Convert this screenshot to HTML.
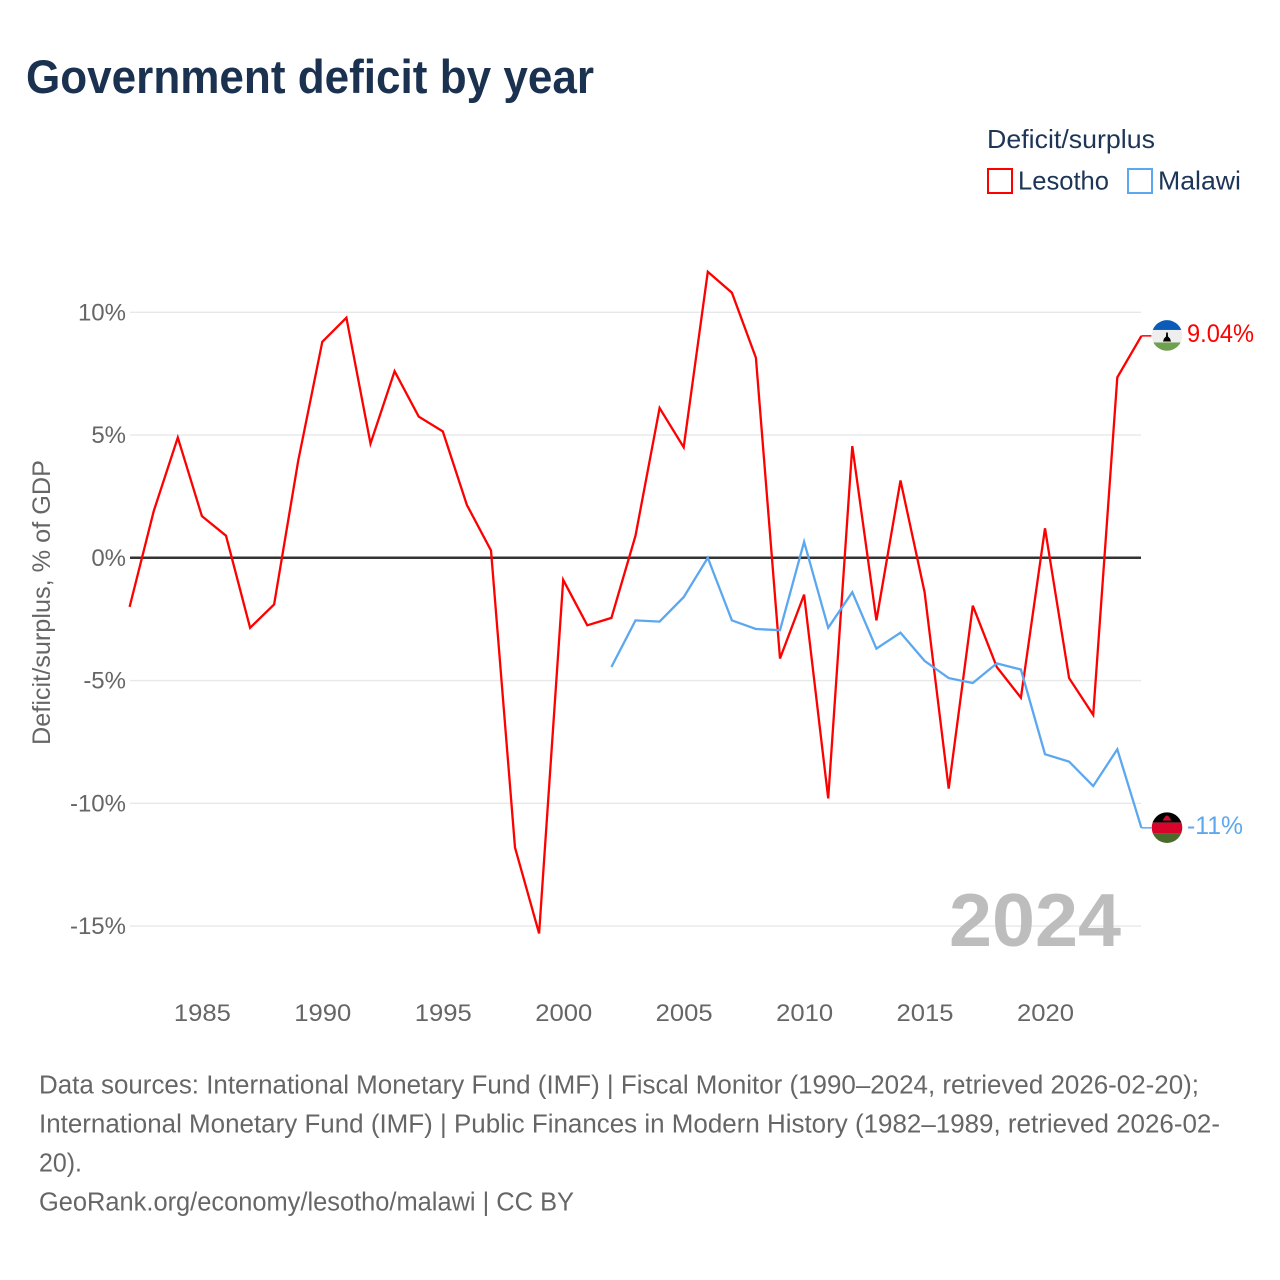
<!DOCTYPE html>
<html lang="en">
<head>
<meta charset="utf-8">
<title>Government deficit by year</title>
<style>
html,body{margin:0;padding:0;background:#fff;width:1280px;height:1280px;overflow:hidden}
svg{display:block;font-family:"Liberation Sans",sans-serif}
</style>
</head>
<body>
<svg id="chart" xmlns="http://www.w3.org/2000/svg" width="1280" height="1280" viewBox="0 0 1280 1280">
  <defs>
    <clipPath id="flag-clip-top"><circle id="clip-top-circle" cx="1167" cy="335" r="15.3"></circle></clipPath>
    <clipPath id="flag-clip-bottom"><circle id="clip-bottom-circle" cx="1167" cy="827" r="15.3"></circle></clipPath>
  </defs>
  <rect width="1280" height="1280" fill="#ffffff"></rect>

  <text x="26" y="93" font-size="47" font-weight="700" fill="#1a3150" textLength="568" lengthAdjust="spacingAndGlyphs">Government deficit by year</text>

  <g>
    <text x="987" y="148" font-size="26" fill="#1d3557" textLength="168" lengthAdjust="spacingAndGlyphs">Deficit/surplus</text>
    <g>
      <rect x="988" y="169" width="24" height="24" fill="#ffffff" stroke="#ff0000" stroke-width="2"></rect>
      <text x="1018" y="189.5" font-size="26" fill="#1d3557" textLength="91" lengthAdjust="spacingAndGlyphs">Lesotho</text>
    </g>
    <g>
      <rect x="1128" y="169" width="24" height="24" fill="#ffffff" stroke="#5ba8f0" stroke-width="2"></rect>
      <text x="1158" y="189.5" font-size="26" fill="#1d3557" textLength="83" lengthAdjust="spacingAndGlyphs">Malawi</text>
    </g>
  </g>

  <text transform="translate(50,745) rotate(-90)" font-size="25" fill="#666666" textLength="285" lengthAdjust="spacingAndGlyphs">Deficit/surplus, % of GDP</text>

  <g id="grid"></g>
  <g id="y-ticks"></g>
  <g id="x-ticks"></g>

  <text x="949" y="946" font-size="75" font-weight="700" fill="#bdbdbd" textLength="172" lengthAdjust="spacingAndGlyphs">2024</text>

  <g id="series"></g>

  <g id="flag-lesotho" clip-path="url(#flag-clip-top)"></g>
  <g id="flag-malawi" clip-path="url(#flag-clip-bottom)"></g>

  <text id="end-label-lesotho" x="1187" y="342" font-size="25" fill="#ff0000" textLength="67" lengthAdjust="spacingAndGlyphs"></text>
  <text id="end-label-malawi" x="1187" y="834" font-size="25" fill="#5ba8f0" textLength="56" lengthAdjust="spacingAndGlyphs"></text>

  <g font-size="25.5" fill="#666666">
    <text x="39" y="1093.5" textLength="1160" lengthAdjust="spacingAndGlyphs">Data sources: International Monetary Fund (IMF) | Fiscal Monitor (1990–2024, retrieved 2026-02-20);</text>
    <text x="39" y="1132.5" textLength="1181" lengthAdjust="spacingAndGlyphs">International Monetary Fund (IMF) | Public Finances in Modern History (1982–1989, retrieved 2026-02-</text>
    <text x="39" y="1171.5" textLength="43" lengthAdjust="spacingAndGlyphs">20).</text>
    <text x="39" y="1210.5" textLength="535" lengthAdjust="spacingAndGlyphs">GeoRank.org/economy/lesotho/malawi | CC BY</text>
  </g>
</svg>
<script>
const lesothoStartYear = 1982;
const malawiStartYear = 2002;
const lesothoValues = [-2.0,1.9,4.9,1.7,0.9,-2.85,-1.9,3.95,8.8,9.78,4.65,7.6,5.75,5.15,2.15,0.3,-11.8,-15.3,-0.9,-2.75,-2.45,0.9,6.1,4.5,11.65,10.8,8.15,-4.1,-1.5,-9.8,4.55,-2.55,3.15,-1.4,-9.4,-1.95,-4.45,-5.7,1.2,-4.9,-6.4,7.35,9.04];
const malawiValues = [-4.45,-2.55,-2.6,-1.6,0,-2.55,-2.9,-2.95,0.65,-2.85,-1.4,-3.7,-3.05,-4.2,-4.9,-5.1,-4.3,-4.55,-8.0,-8.3,-9.3,-7.8,-11];
const yTickValues = [10,5,0,-5,-10,-15];
const xTickValues = [1985,1990,1995,2000,2005,2010,2015,2020];

const NS = 'http://www.w3.org/2000/svg';
function xScale(year){ return 129.6 + (year - 1982) * 24.09; }
function yScale(v){ return 557.8 - v * 24.55; }
function make(tag, attrs, parent){
  const el = document.createElementNS(NS, tag);
  for (const k in attrs) el.setAttribute(k, attrs[k]);
  parent.appendChild(el);
  return el;
}
function fmt(v){ return (Math.round(v * 100) / 100) + '%'; }

const grid = document.getElementById('grid');
const yTicks = document.getElementById('y-ticks');
yTickValues.forEach(function(v){
  const line = make('line', {x1:130, x2:1141, y1:yScale(v), y2:yScale(v), stroke:v === 0 ? '#333333' : '#e8e8e8', 'stroke-width':v === 0 ? 2.5 : 1.3}, grid);
  
  
  const t = make('text', {x:126, y:yScale(v) + 8, 'font-size':24, 'text-anchor':'end', fill:'#666666'}, yTicks);
  
  
  t.textContent = v + '%';
});

const xTicks = document.getElementById('x-ticks');
xTickValues.forEach(function(y){
  const t = make('text', {x:xScale(y) + 0.5, y:1021, 'font-size':24.5, 'text-anchor':'middle', fill:'#666666', textLength:57, lengthAdjust:'spacingAndGlyphs'}, xTicks);
  
  
  t.textContent = y;
});

function drawSeries(values, startYear, color, name){
  const g = document.getElementById('series');
  const pts = values.map(function(v, i){ return xScale(startYear + i).toFixed(1) + ',' + yScale(v).toFixed(1); });
  const line = make('polyline', {points:pts.join(' '), fill:'none', stroke:color, 'stroke-width':2.3, 'stroke-linejoin':'miter'}, g);
  
  
  const last = values[values.length - 1];
  const lastX = xScale(startYear + values.length - 1);
  const lead = make('line', {x1:lastX, x2:lastX + 10, y1:yScale(last), y2:yScale(last), stroke:color, 'stroke-width':1.5}, g);
  
  
}
drawSeries(lesothoValues, lesothoStartYear, '#ff0000', 'line-lesotho');
drawSeries(malawiValues, malawiStartYear, '#5ba8f0', 'line-malawi');

const lesLast = lesothoValues[lesothoValues.length - 1];
const malLast = malawiValues[malawiValues.length - 1];
const cxFlag = 1167;
const cyL = yScale(lesLast) - 0.4;
const cyM = yScale(malLast) - 0.2;
document.getElementById('clip-top-circle').setAttribute('cy', cyL);
document.getElementById('clip-bottom-circle').setAttribute('cy', cyM);

const endL = document.getElementById('end-label-lesotho');
endL.textContent = fmt(lesLast);
endL.setAttribute('y', cyL + 6.5);
const endM = document.getElementById('end-label-malawi');
endM.textContent = fmt(malLast);
endM.setAttribute('y', cyM + 6.5);

const fL = document.getElementById('flag-lesotho');
make('rect', {x:cxFlag-16, y:cyL-16, width:32, height:10.5, fill:'#0a5cb8'}, fL);
make('rect', {x:cxFlag-16, y:cyL-5.5, width:32, height:12.5, fill:'#eeeeee'}, fL);
make('rect', {x:cxFlag-16, y:cyL+7, width:32, height:9, fill:'#6fa050'}, fL);
make('path', {d:'M'+(cxFlag-4)+' '+(cyL+6)+' L'+(cxFlag+4)+' '+(cyL+6)+' L'+(cxFlag+3)+' '+(cyL+3)+' L'+(cxFlag+1)+' '+(cyL+1)+' L'+(cxFlag+0.8)+' '+(cyL-3)+' L'+(cxFlag-0.8)+' '+(cyL-3)+' L'+(cxFlag-1)+' '+(cyL+1)+' L'+(cxFlag-3)+' '+(cyL+3)+' Z', fill:'#000000'}, fL);

const fM = document.getElementById('flag-malawi');
make('rect', {x:cxFlag-16, y:cyM-16, width:32, height:11, fill:'#000000'}, fM);
make('rect', {x:cxFlag-16, y:cyM-5, width:32, height:11, fill:'#d9042b'}, fM);
make('rect', {x:cxFlag-16, y:cyM+6, width:32, height:10, fill:'#4a6b2a'}, fM);
make('path', {d:'M'+(cxFlag-4.5)+' '+(cyM-7)+' L'+(cxFlag+4.5)+' '+(cyM-7)+' L'+(cxFlag+3)+' '+(cyM-9.5)+' L'+(cxFlag+1)+' '+(cyM-12)+' L'+(cxFlag-1)+' '+(cyM-12)+' L'+(cxFlag-3)+' '+(cyM-9.5)+' Z', fill:'#c8102e'}, fM);
</script>
</body>
</html>
